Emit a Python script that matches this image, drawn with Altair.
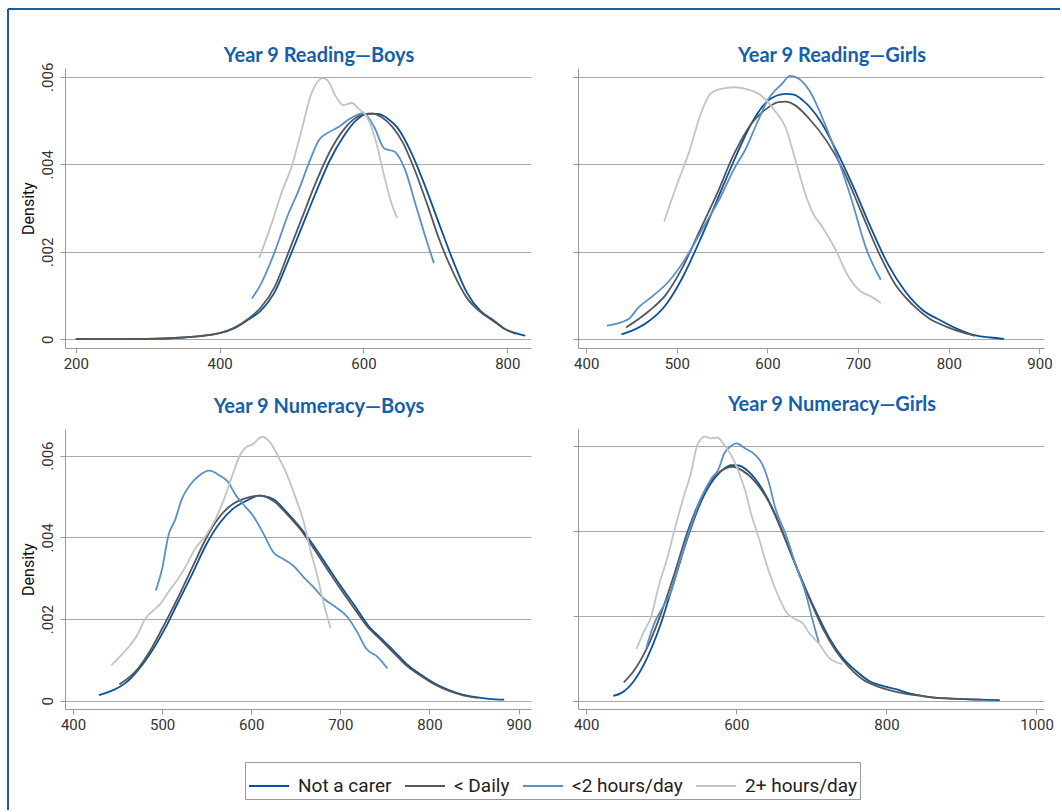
import altair as alt
import pandas as pd

SERIES = ["Not a carer", "< Daily", "<2 hours/day", "2+ hours/day"]
COLORS = ["#0B519D", "#575757", "#5A8FC9", "#C3C3C3"]

# ---------------- Year 9 Reading - Boys ----------------
rb_nc_x = [200, 250, 300, 350, 400, 420, 440, 457, 476, 495, 514, 533, 553, 572, 591, 605, 620, 634, 648, 667, 686, 705, 724, 744, 763, 782, 796, 812, 825]
rb_nc_y = [.00001, .00001, .00001, .00004, .00014, .00025, .00045, .00065, .00106, .00178, .00255, .00332, .00408, .00463, .00502, .00515, .00515, .00504, .00482, .00425, .00349, .00265, .00182, .00106, .00064, .00042, .00024, .00014, .00008]
rb_ld_x = [200, 250, 300, 350, 400, 420, 440, 457, 476, 495, 514, 533, 553, 572, 591, 600, 612, 625, 640, 655, 672, 690, 705, 724, 744, 763, 782, 796, 812]
rb_ld_y = [.00001, .00001, .00001, .00004, .00014, .00026, .00047, .00072, .00118, .00195, .00275, .00355, .00428, .00478, .00508, .00514, .00516, .00508, .00486, .00449, .00384, .00302, .0023, .00155, .00094, .00062, .0004, .00024, .00012]
rb_lt_x = [445, 457, 476, 495, 510, 524, 538, 553, 567, 581, 600, 615, 629, 643, 658, 672, 686, 698]
rb_lt_y = [.00093, .00125, .00197, .00284, .00341, .00402, .00455, .00474, .00487, .00504, .00517, .00485, .00436, .00429, .00387, .00311, .00235, .00174]
rb_gt_x = [455, 471, 486, 500, 514, 526, 536, 543, 550, 562, 572, 584, 593, 605, 617, 629, 639, 647]
rb_gt_y = [.00186, .00258, .00334, .00394, .00478, .00554, .00588, .00597, .00592, .00554, .00535, .0054, .00527, .00508, .00455, .00372, .00311, .00277]

# ---------------- Year 9 Reading - Girls ----------------
rg_nc_x = [439, 450, 469, 488, 506, 525, 544, 563, 582, 601, 620, 629, 639, 658, 676, 695, 714, 733, 752, 771, 790, 808, 827, 846, 861]
rg_nc_y = [.00011, .00019, .00041, .00079, .0014, .00224, .00316, .00408, .00492, .00546, .00561, .00559, .00546, .005, .00431, .00347, .00255, .00171, .00109, .00067, .00044, .00025, .0001, .00004, .00001]
rg_ld_x = [444, 469, 488, 506, 525, 544, 563, 582, 601, 612, 620, 631, 646, 665, 684, 703, 722, 741, 760, 778, 797, 816, 829]
rg_ld_y = [.00027, .00064, .00102, .00163, .00247, .00331, .00423, .00492, .0053, .00542, .00543, .00534, .00504, .00454, .00385, .00293, .00201, .00125, .00079, .00048, .00029, .00015, .00008]
rg_lt_x = [423, 439, 448, 457, 473, 491, 510, 529, 548, 563, 576, 588, 601, 616, 625, 635, 646, 661, 676, 691, 710, 725]
rg_lt_y = [.00031, .00039, .00048, .00071, .00098, .00132, .00186, .00255, .00324, .00389, .00435, .00492, .00549, .00584, .00602, .00595, .00569, .00504, .00423, .00331, .00201, .00136]
rg_gt_x = [486, 499, 514, 525, 537, 548, 563, 578, 593, 608, 620, 631, 642, 650, 661, 676, 688, 703, 714, 725]
rg_gt_y = [.00269, .00347, .00431, .00507, .00561, .00572, .00576, .00571, .00557, .00523, .00484, .00408, .00331, .00289, .00255, .00201, .00148, .00109, .00098, .00083]

# ---------------- Year 9 Numeracy - Boys ----------------
nb_nc_x = [429, 447, 458, 473, 488, 503, 519, 534, 549, 564, 579, 594, 609, 625, 640, 655, 670, 685, 700, 716, 731, 746, 761, 776, 791, 806, 822, 837, 852, 867, 884]
nb_nc_y = [.00014, .00028, .00042, .00075, .0012, .00176, .00246, .00311, .0038, .00433, .00469, .00489, .00502, .00493, .00461, .00424, .0038, .00331, .00282, .00233, .00185, .00152, .0012, .00087, .00063, .00042, .00026, .00015, .00009, .00005, .00003]
nb_ld_x = [452, 473, 488, 503, 519, 534, 549, 564, 579, 594, 609, 625, 640, 655, 670, 685, 700, 716, 731, 746, 761, 776, 791, 806, 822, 837, 854]
nb_ld_y = [.0004, .00079, .00128, .00189, .00258, .00327, .00396, .00449, .00481, .00496, .00502, .00489, .00457, .0042, .00373, .00323, .00274, .00225, .0018, .00148, .00115, .00083, .0006, .0004, .00024, .00014, .00007]
nb_lt_x = [493, 500, 507, 515, 522, 532, 541, 553, 564, 573, 583, 591, 602, 613, 625, 636, 647, 659, 670, 681, 695, 708, 719, 729, 742, 753]
nb_lt_y = [.0027, .00323, .00404, .00445, .00493, .0053, .0055, .00563, .00552, .00538, .00502, .00481, .00453, .00412, .00363, .00347, .00331, .00302, .00278, .00251, .00229, .00205, .00168, .00128, .00107, .00079]
nb_gt_x = [443, 452, 464, 473, 481, 490, 498, 507, 519, 528, 537, 549, 560, 568, 580, 587, 594, 602, 612, 621, 630, 640, 649, 659, 666, 674, 681, 689]
nb_gt_y = [.00087, .00107, .00136, .00164, .00201, .00221, .00237, .00266, .00302, .00335, .00372, .00404, .00445, .00485, .00559, .00599, .0062, .00628, .00646, .00633, .00599, .00554, .00502, .00437, .00372, .00307, .00241, .00178]

# ---------------- Year 9 Numeracy - Girls ----------------
ng_nc_x = [436, 447, 463, 481, 499, 517, 535, 553, 571, 584, 593, 603, 616, 634, 652, 670, 688, 706, 724, 742, 760, 778, 796, 814, 832, 850, 868, 895, 923, 951]
ng_nc_y = [.00011, .00018, .00045, .001, .00179, .00281, .00383, .00469, .00524, .00547, .00555, .00554, .0054, .005, .00438, .00359, .00281, .0021, .00147, .001, .00069, .00045, .00034, .00026, .00016, .0001, .00006, .00004, .00002, .00001]
ng_ld_x = [450, 463, 481, 499, 517, 535, 553, 571, 584, 595, 607, 625, 643, 661, 679, 697, 715, 733, 751, 769, 787, 805, 823, 846, 868, 895, 927]
ng_ld_y = [.00043, .00069, .00124, .00202, .00296, .00398, .00477, .00528, .00546, .00551, .00543, .00516, .00469, .00398, .0032, .00242, .00171, .00116, .00077, .00049, .00034, .00024, .00017, .00011, .00006, .00004, .00002]
ng_lt_x = [480, 490, 504, 513, 526, 540, 553, 567, 576, 584, 593, 600, 612, 625, 634, 643, 652, 666, 679, 693, 702, 710]
ng_lt_y = [.00124, .00179, .00226, .00257, .00336, .00414, .00477, .00524, .00544, .00583, .006, .00606, .00594, .00579, .00559, .00516, .00453, .00391, .0032, .00249, .00187, .00136]
ng_gt_x = [467, 477, 486, 497, 508, 517, 528, 540, 548, 558, 566, 575, 584, 593, 603, 612, 620, 630, 639, 648, 657, 666, 679, 688, 697, 711, 724, 741]
ng_gt_y = [.00122, .00163, .00195, .00273, .00336, .00398, .00469, .0054, .00602, .00622, .00618, .0062, .00602, .00579, .0054, .00493, .00438, .00383, .00328, .00281, .00242, .0021, .00191, .00183, .00159, .00132, .001, .00086]

NARROW = "Liberation Sans Narrow, Arial Narrow, Roboto, sans-serif"
TITLE_FONT = "Lato, Open Sans, sans-serif"
TITLE_COLOR = "#1660A9"
FRAME_COLOR = "#1A5CA5"


def long_df(pairs):
    rows = []
    for name, xs, ys in pairs:
        for x, y in zip(xs, ys):
            rows.append({"score": x, "density": y, "group": name})
    return pd.DataFrame(rows)


color_enc = alt.Color(
    "group:N",
    scale=alt.Scale(domain=SERIES, range=COLORS),
    sort=SERIES,
    legend=alt.Legend(
        title=None,
        orient="none",
        legendX=180,
        legendY=694,
        direction="horizontal",
        symbolType="stroke",
        symbolSize=1600,
        symbolStrokeWidth=2,
        labelFont=NARROW,
        labelFontSize=19,
        labelColor="#222222",
        labelOffset=8,
        columnPadding=9,
        padding=3,
        strokeColor="#9A9A9A",
        fillColor="white",
    ),
)

W, H = 466, 280
YTICKS = [0, 0.002, 0.004, 0.006]
YLABEL = "datum.value == 0 ? '0' : replace(format(datum.value, '.3f'), '0.', '.')"


def panel(df, xdom, xticks, ydom, left):
    if left:
        yaxis = alt.Axis(values=YTICKS, labelExpr=YLABEL, labelAngle=270,
                         labelAlign="center", labelBaseline="bottom", labelPadding=5,
                         title="Density", titlePadding=4, grid=True)
    else:
        yaxis = alt.Axis(values=YTICKS, labels=False, title=None, grid=True)
    return alt.Chart(df).mark_line(strokeWidth=1.8, interpolate="monotone", clip=True).encode(
        x=alt.X("score:Q", scale=alt.Scale(domain=xdom, nice=False, zero=False),
                axis=alt.Axis(values=xticks, format="d", title=None, grid=False, labelPadding=3)),
        y=alt.Y("density:Q", scale=alt.Scale(domain=ydom, nice=False, zero=False), axis=yaxis),
        color=color_enc,
        detail="group:N",
    )


def titled(ch, title, dy=0, offset=5):
    return ch.properties(
        width=W, height=H,
        title=alt.TitleParams(title, font=TITLE_FONT, fontSize=20, fontWeight="bold",
                              color=TITLE_COLOR, anchor="middle", dx=21, dy=dy, offset=offset,
                              frame="group"),
    )


frame_df = pd.DataFrame({"k": [0]})
frame_v = alt.Chart(frame_df).mark_rule(color=FRAME_COLOR, strokeWidth=2).encode(
    x=alt.value(-57), y=alt.value(-59), y2=alt.value(742))
frame_h = alt.Chart(frame_df).mark_rule(color=FRAME_COLOR, strokeWidth=2).encode(
    x=alt.value(-57), x2=alt.value(995), y=alt.value(-59))

p1 = panel(long_df([(SERIES[0], rb_nc_x, rb_nc_y), (SERIES[1], rb_ld_x, rb_ld_y),
                    (SERIES[2], rb_lt_x, rb_lt_y), (SERIES[3], rb_gt_x, rb_gt_y)]),
           [185, 833], [200, 400, 600, 800], [-0.0002, 0.0062], True)
# the frame lines lie above the plot, so the title is shifted back down to sit just above the plot
p1 = titled(alt.layer(p1, frame_v, frame_h), "Year 9 Reading\u2014Boys", dy=63)
p2 = titled(panel(long_df([(SERIES[0], rg_nc_x, rg_nc_y), (SERIES[1], rg_ld_x, rg_ld_y),
                           (SERIES[2], rg_lt_x, rg_lt_y), (SERIES[3], rg_gt_x, rg_gt_y)]),
                  [391, 905], [400, 500, 600, 700, 800, 900], [-0.0002, 0.0062], False),
            "Year 9 Reading\u2014Girls", offset=2)
p3 = titled(panel(long_df([(SERIES[0], nb_nc_x, nb_nc_y), (SERIES[1], nb_ld_x, nb_ld_y),
                           (SERIES[2], nb_lt_x, nb_lt_y), (SERIES[3], nb_gt_x, nb_gt_y)]),
                  [391, 914], [400, 500, 600, 700, 800, 900], [-0.0002, 0.00665], True),
            "Year 9 Numeracy\u2014Boys", offset=12)
p4 = titled(panel(long_df([(SERIES[0], ng_nc_x, ng_nc_y), (SERIES[1], ng_ld_x, ng_ld_y),
                           (SERIES[2], ng_lt_x, ng_lt_y), (SERIES[3], ng_gt_x, ng_gt_y)]),
                  [389, 1010], [400, 600, 800, 1000], [-0.0002, 0.0064], False),
            "Year 9 Numeracy\u2014Girls", offset=14)

chart = alt.concat(p1, p2, p3, p4, columns=2, spacing={"row": 81, "column": 47}, bounds="flush").resolve_scale(
    x="independent", y="independent", color="shared"
).properties(
    padding={"left": 7, "top": 8, "right": 0, "bottom": 0},
    background="white",
).configure_view(stroke=None).configure_axis(
    labelFont=NARROW, labelFontSize=15, labelColor="#333333",
    titleFont=NARROW, titleFontSize=16, titleColor="#111111", titleFontWeight="normal",
    domainColor="#9A9A9A", tickColor="#9A9A9A", gridColor="#A8A8A8",
    tickSize=5, domainWidth=1, gridWidth=1,
)

chart.save("out.html", embed_options={"renderer": "svg", "actions": False})
